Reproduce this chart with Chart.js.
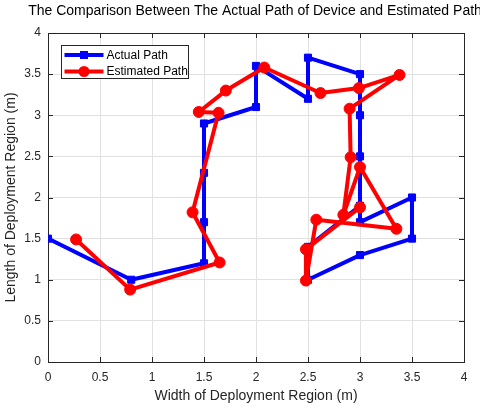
<!DOCTYPE html>
<html>
<head>
<meta charset="utf-8">
<script src="https://cdn.jsdelivr.net/npm/chart.js@4"></script>
<style>
  html, body { margin: 0; padding: 0; background: #fff; }
  #wrap { width: 480px; height: 407px; }
</style>
</head>
<body>
<div id="wrap"><canvas id="chart"></canvas></div>
<script>
const titleText = "The Comparison Between The Actual Path of Device and Estimated Path";
const xLabel = "Width of Deployment Region (m)";
const yLabel = "Length of Deployment Region (m)";

// actual path (blue squares)
const actualX = [0, 0.8, 1.5, 1.5, 1.5, 1.5, 2.0, 2.0, 2.5, 2.5, 3.0, 3.0, 3.0, 3.0, 3.5, 3.5, 3.0, 2.5, 2.5, 3.0];
const actualY = [1.5, 1.0, 1.2, 1.7, 2.3, 2.9, 3.1, 3.6, 3.2, 3.7, 3.5, 3.0, 2.5, 1.7, 2.0, 1.5, 1.3, 1.0, 1.4, 1.9];

// estimated path (red circles)
const estX = [0.27, 0.79, 1.65, 1.39, 1.64, 1.45, 1.71, 2.08, 2.62, 2.99, 3.38, 2.9, 2.91, 2.84, 3.0, 3.35, 2.58, 2.48, 2.48, 3.0];
const estY = [1.49, 0.88, 1.21, 1.82, 3.03, 3.04, 3.3, 3.58, 3.27, 3.33, 3.49, 3.08, 2.49, 1.79, 2.37, 1.62, 1.73, 0.99, 1.37, 1.88];

const axisMin = 0;
const axisMax = 4;
const tickStep = 0.5;

const toPoints = (xs, ys) => xs.map((x, i) => ({ x: x, y: ys[i] }));

const textColor = "#262626";
const gridColor = "#e1e1e1";
const fontFamily = "'Liberation Sans', Arial, sans-serif";

// title centred over the plot area (it runs off the right edge, like the original)
const plotTitle = {
  id: "plotTitle",
  afterDraw(chart) {
    const { ctx, chartArea: a } = chart;
    ctx.save();
    ctx.fillStyle = "#000";
    ctx.font = "14px " + fontFamily;
    ctx.textAlign = "center";
    ctx.textBaseline = "middle";
    ctx.fillText(titleText, (a.left + a.right) / 2 - 1, 11);
    ctx.restore();
  }
};

// MATLAB style box + inward ticks
const boxTicks = {
  id: "boxTicks",
  beforeDatasetsDraw(chart) {
    const { ctx, chartArea: a, scales } = chart;
    ctx.save();
    ctx.strokeStyle = textColor;
    ctx.lineWidth = 1;
    ctx.beginPath();
    for (let v = axisMin; v <= axisMax; v += tickStep) {
      const px = Math.round(scales.x.getPixelForValue(v)) + 0.5;
      ctx.moveTo(px, a.bottom); ctx.lineTo(px, a.bottom - 5);
      ctx.moveTo(px, a.top); ctx.lineTo(px, a.top + 5);
      const py = Math.round(scales.y.getPixelForValue(v)) + 0.5;
      ctx.moveTo(a.left, py); ctx.lineTo(a.left + 5, py);
      ctx.moveTo(a.right, py); ctx.lineTo(a.right - 5, py);
    }
    ctx.stroke();
    ctx.strokeRect(Math.round(a.left) + 0.5, Math.round(a.top) + 0.5,
      Math.round(a.right - a.left), Math.round(a.bottom - a.top));
    ctx.restore();
  }
};

// legend drawn inside the plot, top-left
const insideLegend = {
  id: "insideLegend",
  afterDraw(chart) {
    const { ctx, chartArea: a } = chart;
    const x0 = Math.round(a.left) + 13.5;
    const y0 = Math.round(a.top) + 12.5;
    const w = 127, h = 33;
    ctx.save();
    ctx.fillStyle = "#fff";
    ctx.fillRect(x0, y0, w, h);
    ctx.strokeStyle = textColor;
    ctx.lineWidth = 1;
    ctx.strokeRect(x0, y0, w, h);
    chart.data.datasets.slice().sort((p, q) => p.legendIndex - q.legendIndex).forEach((ds, i) => {
      const y = y0 + 9.5 + i * 16.5;
      ctx.strokeStyle = ds.borderColor;
      ctx.lineWidth = 4;
      ctx.beginPath();
      ctx.moveTo(x0 + 3, y);
      ctx.lineTo(x0 + 42, y);
      ctx.stroke();
      ctx.fillStyle = ds.borderColor;
      if (ds.pointStyle === "rect") {
        ctx.fillRect(x0 + 22.5 - 4, y - 4, 8, 8);
      } else {
        ctx.beginPath();
        ctx.arc(x0 + 22.5, y, 5.5, 0, Math.PI * 2);
        ctx.fill();
      }
      ctx.fillStyle = "#000";
      ctx.font = "12px " + fontFamily;
      ctx.textBaseline = "middle";
      ctx.fillText(ds.label, x0 + 45, y + 0.5);
    });
    ctx.restore();
  }
};

const tickFmt = (v) => String(v);

new Chart(document.getElementById("chart"), {
  type: "scatter",
  data: {
    datasets: [
      {
        label: "Actual Path",
        legendIndex: 0,
        data: toPoints(actualX, actualY),
        showLine: true,
        borderColor: "#0000ff",
        backgroundColor: "#0000ff",
        borderWidth: 4,
        borderJoinStyle: "round",
        pointStyle: "rect",
        pointRadius: 5,
        pointBorderWidth: 1,
        order: 2
      },
      {
        label: "Estimated Path",
        legendIndex: 1,
        data: toPoints(estX, estY),
        showLine: true,
        borderColor: "#ff0000",
        backgroundColor: "#ff0000",
        borderWidth: 4,
        borderJoinStyle: "round",
        pointStyle: "circle",
        pointRadius: 5.5,
        pointBorderWidth: 1,
        order: 1
      }
    ]
  },
  options: {
    responsive: true,
    maintainAspectRatio: false,
    animation: false,
    layout: { padding: { left: 0, right: 16, top: 33, bottom: 0 } },
    plugins: {
      legend: { display: false },
      tooltip: { enabled: false },
      title: { display: false }
    },
    scales: {
      x: {
        type: "linear",
        min: axisMin,
        max: axisMax,
        afterFit: (s) => { s.height = 45; },
        ticks: {
          stepSize: tickStep,
          color: textColor,
          padding: 8,
          font: { family: fontFamily, size: 12 },
          callback: tickFmt
        },
        grid: { color: gridColor, drawTicks: false },
        border: { display: false },
        title: {
          display: true,
          text: xLabel,
          color: textColor,
          font: { family: fontFamily, size: 14 },
          padding: { top: 2, bottom: 2 }
        }
      },
      y: {
        type: "linear",
        min: axisMin,
        max: axisMax,
        afterFit: (s) => { s.width = 48; },
        ticks: {
          stepSize: tickStep,
          color: textColor,
          padding: 7,
          font: { family: fontFamily, size: 12 },
          callback: tickFmt
        },
        grid: { color: gridColor, drawTicks: false },
        border: { display: false },
        title: {
          display: true,
          text: yLabel,
          color: textColor,
          font: { family: fontFamily, size: 14 },
          padding: { top: 3, bottom: 0 }
        }
      }
    }
  },
  plugins: [boxTicks, insideLegend, plotTitle]
});
</script>
</body>
</html>
